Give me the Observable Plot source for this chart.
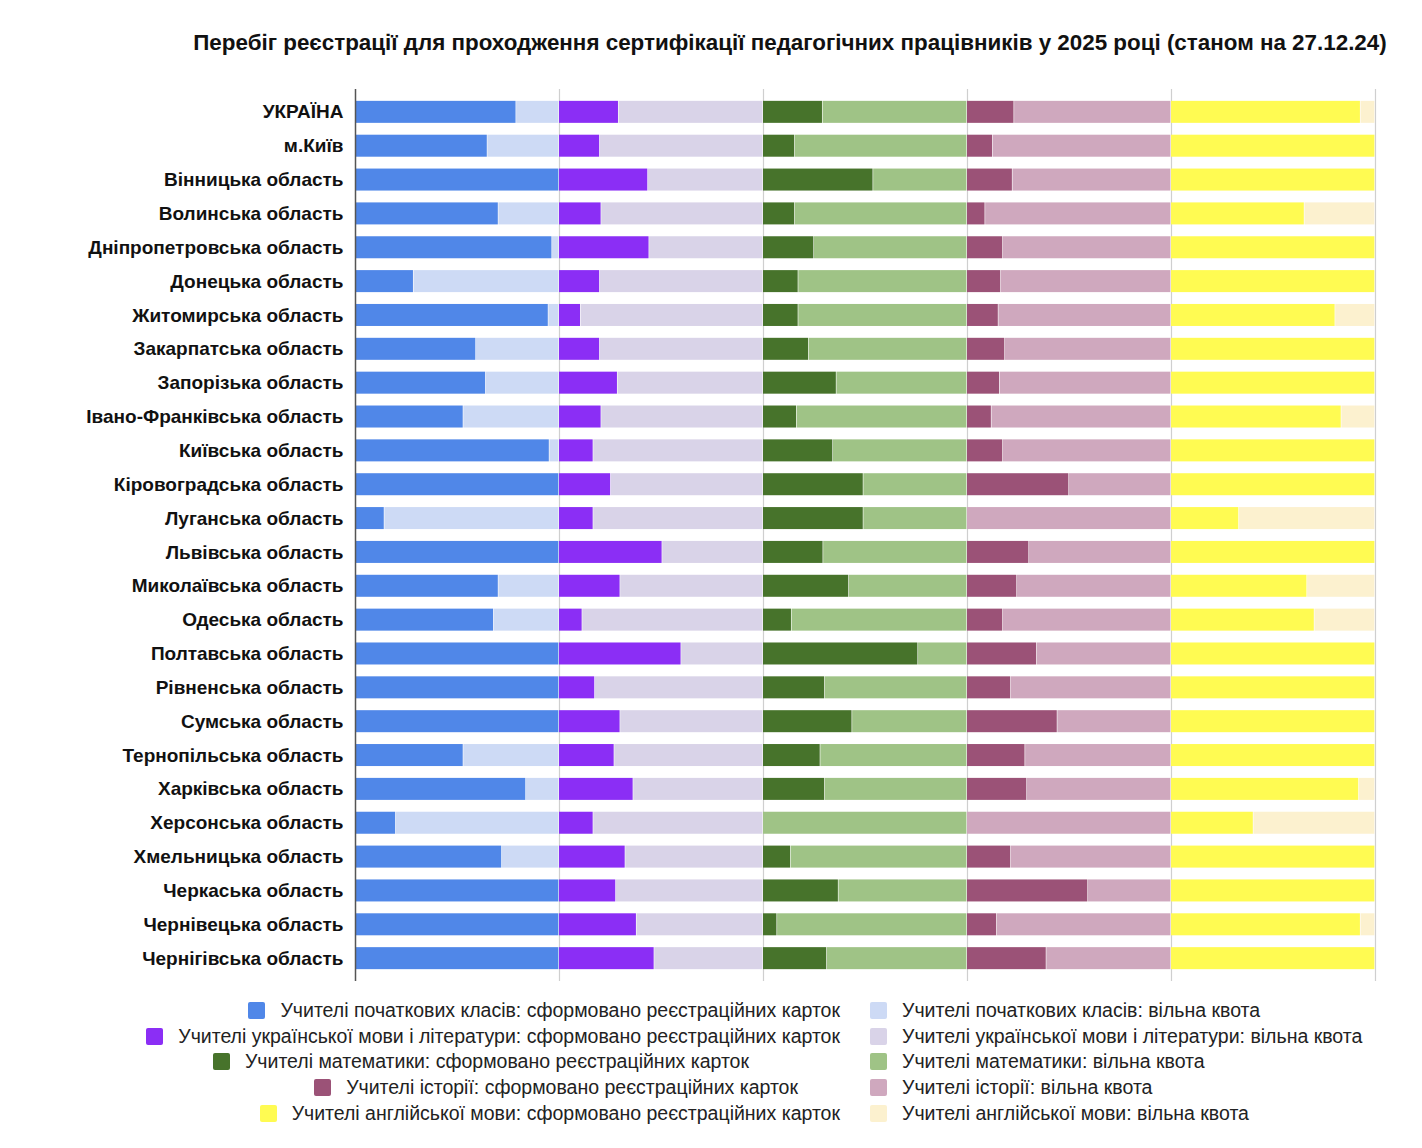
<!DOCTYPE html>
<html>
<head>
<meta charset="utf-8">
<script src="https://cdn.jsdelivr.net/npm/d3@7"></script>
<script src="https://cdn.jsdelivr.net/npm/@observablehq/plot@0.6"></script>
<style>
  html, body { margin: 0; padding: 0; background: #fff; }
  #wrap { position: relative; width: 1422px; height: 1148px; font-family: "Liberation Sans", Arial, sans-serif; }
  #title { position: absolute; top: 30px; left: 790px; transform: translateX(-50%); white-space: nowrap;
           font-size: 22.4px; line-height: 26px; font-weight: bold; color: #111; }
  #chart { position: absolute; top: 70px; left: 0; }
  .leg { position: absolute; display: flex; align-items: center; white-space: nowrap; font-size: 19.5px; color: #222; height: 22px; }
  .leg .sw { width: 17px; height: 17px; border-radius: 2px; margin-right: 15px; flex: none; }
</style>
</head>
<body>
<div id="wrap">
  <div id="title">Перебіг реєстрації для проходження сертифікації педагогічних працівників у 2025 році (станом на 27.12.24)</div>
  <div id="chart"></div>
  <div id="legend"></div>
</div>
<script>
const regions = ["УКРАЇНА","м.Київ","Вінницька область","Волинська область","Дніпропетровська область","Донецька область","Житомирська область","Закарпатська область","Запорізька область","Івано-Франківська область","Київська область","Кіровоградська область","Луганська область","Львівська область","Миколаївська область","Одеська область","Полтавська область","Рівненська область","Сумська область","Тернопільська область","Харківська область","Херсонська область","Хмельницька область","Черкаська область","Чернівецька область","Чернігівська область"];

// share of quota with formed registration cards, %
const primaryFilled = [79, 64.9, 100, 70.3, 96.6, 28.7, 94.8, 59.3, 64.1, 53.1, 95.3, 100, 14.4, 100, 70.3, 68, 100, 100, 100, 53.1, 83.8, 20, 72, 100, 100, 100];
const ukrainianFilled = [29.2, 20, 43.6, 20.7, 44.2, 20, 10.6, 20, 28.7, 20.7, 16.8, 25.4, 16.8, 50.6, 30, 11.4, 59.9, 17.6, 30, 27.1, 36.4, 16.8, 32.5, 27.9, 38, 46.7];
const mathFilled = [29.2, 15.6, 54, 15.6, 25, 17.3, 17.3, 22.4, 36, 16.5, 34.3, 49.2, 49.2, 29.5, 42.1, 14, 76, 30.3, 43.7, 28.1, 30.3, 0, 13.6, 37, 6.9, 31.3];
const historyFilled = [23.1, 12.6, 22.3, 8.9, 17.6, 16.6, 15.4, 18.6, 16, 12, 17.6, 50, 0, 30.4, 24.5, 17.6, 34.2, 21.5, 44.3, 28.5, 29.4, 0, 21.5, 59.3, 14.6, 38.9];
const englishFilled = [92.9, 100, 100, 65.4, 100, 100, 80.5, 100, 100, 83.5, 100, 100, 33.3, 100, 66.7, 70.3, 100, 100, 100, 100, 92.1, 40.4, 100, 100, 92.9, 100];

const groupNames = ["Учителі початкових класів", "Учителі української мови і літератури", "Учителі математики", "Учителі історії", "Учителі англійської мови"];
const filledSuffix = "сформовано реєстраційних карток";
const freeSuffix = "вільна квота";
const filledColors = ["#5087e8", "#8b2ef5", "#47732b", "#9b5277", "#fffb52"];
const freeColors = ["#cddaf5", "#d9d3e8", "#9fc386", "#cfa8be", "#fcf1cf"];

const groups = [primaryFilled, ukrainianFilled, mathFilled, historyFilled, englishFilled];

const rows = [];
groups.forEach((arr, gi) => {
  regions.forEach((r, ri) => {
    const f = arr[ri] / 100;
    rows.push({region: r, key: `${groupNames[gi]}: ${filledSuffix}`, x1: gi, x2: gi + f});
    rows.push({region: r, key: `${groupNames[gi]}: ${freeSuffix}`, x1: gi + f, x2: gi + 1});
  });
});

const colorDomain = [], colorRange = [];
groupNames.forEach((g, i) => {
  colorDomain.push(`${g}: ${filledSuffix}`); colorRange.push(filledColors[i]);
  colorDomain.push(`${g}: ${freeSuffix}`); colorRange.push(freeColors[i]);
});

const chart = Plot.plot({
  width: 1422,
  height: 920,
  marginLeft: 355,
  marginRight: 47,
  marginTop: 19,
  marginBottom: 9,
  style: {fontFamily: "'Liberation Sans', Arial, sans-serif", fontSize: "19px", fontWeight: "bold", color: "#111", background: "#fff"},
  x: {domain: [0, 5], axis: null},
  y: {domain: regions, padding: 0.35, round: false, axis: null},
  color: {type: "ordinal", domain: colorDomain, range: colorRange},
  marks: [
    Plot.ruleX([1, 2, 3, 4, 5], {stroke: "#cfcfcf", strokeWidth: 1.2}),
    Plot.barX(rows, {x1: "x1", x2: "x2", y: "region", fill: "key", insetRight: 0.6}),
    Plot.ruleX([0], {stroke: "#555", strokeWidth: 1.5}),
    Plot.axisY({tickSize: 0, tickPadding: 12, label: null, fontSize: 19, fontWeight: "bold"})
  ]
});
document.getElementById("chart").appendChild(chart);

// legend (left column items end at varying positions, as in the original layout)
const legend = document.getElementById("legend");
const rowY = [1010, 1036, 1061, 1087, 1113];
const leftEnds = [840, 840, 749, 798, 840];
groupNames.forEach((g, i) => {
  const l = document.createElement("div");
  l.className = "leg";
  l.style.right = (1422 - leftEnds[i]) + "px";
  l.style.top = (rowY[i] - 11) + "px";
  l.innerHTML = `<span class="sw" style="background:${filledColors[i]}"></span><span>${g}: ${filledSuffix}</span>`;
  legend.appendChild(l);
  const r = document.createElement("div");
  r.className = "leg";
  r.style.left = "870px";
  r.style.top = (rowY[i] - 11) + "px";
  r.innerHTML = `<span class="sw" style="background:${freeColors[i]}"></span><span>${g}: ${freeSuffix}</span>`;
  legend.appendChild(r);
});
</script>
</body>
</html>
